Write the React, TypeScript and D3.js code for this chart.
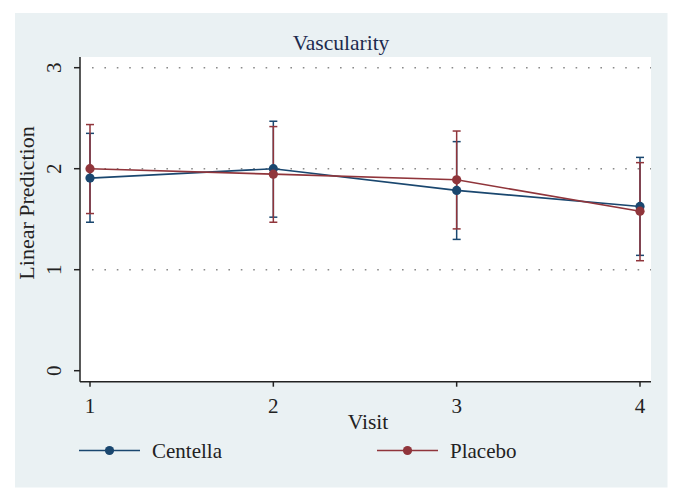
import React from "react";
import * as d3 from "d3";

const visits = [1, 2, 3, 4];
const centellaMean = [1.907, 2.0, 1.785, 1.626];
const centellaLo = [1.47, 1.52, 1.3, 1.142];
const centellaHi = [2.35, 2.47, 2.268, 2.112];
const placeboMean = [2.0, 1.946, 1.89, 1.579];
const placeboLo = [1.556, 1.47, 1.404, 1.089];
const placeboHi = [2.437, 2.417, 2.373, 2.06];
const yTicks = [0, 1, 2, 3];
const gridTicks = [1, 2, 3];
const seriesNames = ["Centella", "Placebo"];
const seriesColors = ["#1a476f", "#90353b"];

const W = 682;
const H = 502;
const FONT = "'Liberation Serif', 'DejaVu Serif', serif";

export default function App() {
  const x = d3.scaleLinear().domain([1, 4]).range([90, 640]);
  const y = d3.scaleLinear().domain([0, 3]).range([370.7, 67.7]);
  const plot = { left: 80, right: 651, top: 57, bottom: 381.7 };

  const series = [
    { name: seriesNames[0], color: seriesColors[0], mean: centellaMean, lo: centellaLo, hi: centellaHi },
    { name: seriesNames[1], color: seriesColors[1], mean: placeboMean, lo: placeboLo, hi: placeboHi },
  ];

  const line = d3
    .line<number>()
    .x((_, i) => x(visits[i]))
    .y((d) => y(d));

  const cap = 4;

  return (
    <svg
      width={W}
      height={H}
      style={{ position: "absolute", left: 0, top: 0, background: "#ffffff" }}
      fontFamily={FONT}
    >
      <rect x={15} y={13} width={652.5} height={474.5} fill="#eaf1f3" />
      <rect x={plot.left} y={plot.top} width={plot.right - plot.left} height={plot.bottom - plot.top} fill="#ffffff" />

      {/* title */}
      <text x={341} y={50} textAnchor="middle" fontSize={21.5} fill="#1c2a4e">
        Vascularity
      </text>

      {/* gridlines */}
      {gridTicks.map((t) => (
        <line
          key={"g" + t}
          x1={plot.left + 12}
          x2={plot.right}
          y1={y(t)}
          y2={y(t)}
          stroke="#8a8a8a"
          strokeWidth={1.6}
          strokeDasharray="1.6 10.8"
        />
      ))}

      {/* CIs */}
      {series.map((s) =>
        visits.map((v, i) => (
          <g key={s.name + "ci" + v} stroke={s.color} strokeWidth={1.5}>
            <line x1={x(v)} x2={x(v)} y1={y(s.lo[i])} y2={y(s.hi[i])} />
            <line x1={x(v) - cap} x2={x(v) + cap} y1={y(s.lo[i])} y2={y(s.lo[i])} />
            <line x1={x(v) - cap} x2={x(v) + cap} y1={y(s.hi[i])} y2={y(s.hi[i])} />
          </g>
        ))
      )}

      {/* lines and markers */}
      {series.map((s) => (
        <g key={s.name + "line"}>
          <path d={line(s.mean) || ""} fill="none" stroke={s.color} strokeWidth={1.6} />
          {visits.map((v, i) => (
            <circle key={v} cx={x(v)} cy={y(s.mean[i])} r={4.6} fill={s.color} />
          ))}
        </g>
      ))}

      {/* axes */}
      <line x1={plot.left} x2={plot.left} y1={plot.top} y2={plot.bottom} stroke="#222" strokeWidth={1.5} />
      <line x1={plot.left} x2={plot.right} y1={plot.bottom} y2={plot.bottom} stroke="#222" strokeWidth={1.5} />
      {yTicks.map((t) => (
        <g key={"yt" + t}>
          <line x1={plot.left - 6} x2={plot.left} y1={y(t)} y2={y(t)} stroke="#222" strokeWidth={1.5} />
          <text
            transform={`translate(${61},${y(t)}) rotate(-90)`}
            textAnchor="middle"
            fontSize={21}
            fill="#222"
          >
            {t}
          </text>
        </g>
      ))}
      {visits.map((v) => (
        <g key={"xt" + v}>
          <line x1={x(v)} x2={x(v)} y1={plot.bottom} y2={plot.bottom + 5} stroke="#222" strokeWidth={1.5} />
          <text x={x(v)} y={413} textAnchor="middle" fontSize={21} fill="#222">
            {v}
          </text>
        </g>
      ))}

      {/* axis titles */}
      <text x={368} y={429} textAnchor="middle" fontSize={21.5} fill="#222">
        Visit
      </text>
      <text
        transform={`translate(${34},${203}) rotate(-90)`}
        textAnchor="middle"
        fontSize={22}
        fill="#222"
      >
        Linear Prediction
      </text>

      {/* legend */}
      {series.map((s, i) => {
        const x0 = i === 0 ? 79 : 377;
        return (
          <g key={s.name + "leg"}>
            <line x1={x0} x2={x0 + 61} y1={450.5} y2={450.5} stroke={s.color} strokeWidth={1.6} />
            <circle cx={x0 + 30.5} cy={450.5} r={4.6} fill={s.color} />
            <text x={x0 + 73} y={457.5} fontSize={21} fill="#222">
              {s.name}
            </text>
          </g>
        );
      })}
    </svg>
  );
}
